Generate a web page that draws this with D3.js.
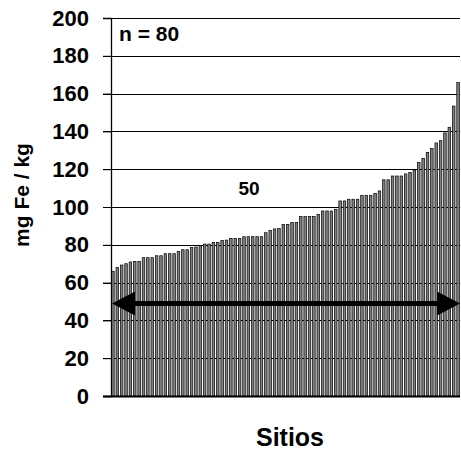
<!DOCTYPE html>
<meta charset="utf-8">
<script src="https://d3js.org/d3.v7.min.js"></script>
<style>
  body { margin: 0; background: #fff; }
  text { font-family: Arial, "Liberation Sans", sans-serif; font-weight: bold; fill: #000; }
</style>
<div id="chart"></div>
<script>
    // data: Fe per site, sorted
    const sites = d3.range(1, 81);
    const feValues = [
        66, 68, 69.3, 70, 70.9, 71.2, 71.2, 73.2, 73.2, 73.2,
        74.2, 74.2, 75.3, 75.3, 75.3, 76.4, 77.4, 77.4, 78.5, 78.8,
        79.5, 80.4, 80.4, 81.3, 81.3, 82.2, 82.5, 83.4, 83.4, 83.4,
        84.3, 84.3, 84.3, 84.3, 84.3, 86.4, 87.5, 88.4, 88.7, 90.8,
        90.8, 91.8, 91.8, 94.9, 94.9, 94.9, 94.9, 96.1, 97.9, 97.9,
        97.9, 98.8, 103.2, 103.2, 104.1, 104.1, 104.1, 106.1, 106.2, 106.2,
        107.2, 108.5, 114.4, 114.4, 116.4, 116.4, 116.4, 117.5, 118.3, 119.6,
        123.6, 125.7, 128.9, 130.9, 133.9, 135.1, 139.2, 142.2, 153.4, 165.8
    ];
    const yTicks = [0, 20, 40, 60, 80, 100, 120, 140, 160, 180, 200];
    const arrowValue = [49];
    const annotations = ["n = 80", "50"];

    const W = 461, H = 453;
    const margin = {top: 18, right: 1, bottom: 57, left: 111};

    const svg = d3.select("#chart")
        .append("svg")
        .attr("width", W)
        .attr("height", H);

    const x = d3.scaleBand()
        .domain(sites)
        .range([margin.left, W - margin.right])
        .paddingInner(0.42)
        .paddingOuter(0.15);

    const y = d3.scaleLinear()
        .domain([0, 200])
        .range([H - margin.bottom, margin.top]);

    // gridlines + tick marks
    svg.append("g")
        .selectAll("line")
        .data(yTicks.filter(d => d > 0))
        .join("line")
        .attr("x1", margin.left - 8)
        .attr("x2", W - margin.right)
        .attr("y1", d => Math.round(y(d)) + 0.5)
        .attr("y2", d => Math.round(y(d)) + 0.5)
        .attr("stroke", "#000")
        .attr("stroke-width", 1.2);

    // bars
    svg.append("g")
        .selectAll("rect")
        .data(feValues)
        .join("rect")
        .attr("x", (d, i) => x(sites[i]))
        .attr("width", x.bandwidth())
        .attr("y", d => y(d))
        .attr("height", d => y(0) - y(d))
        .attr("fill", "#808080")
        .attr("stroke", "#000")
        .attr("stroke-width", 0.7);

    // y axis
    const yAxis = svg.append("g")
        .attr("transform", `translate(${margin.left},0)`)
        .call(d3.axisLeft(y).tickValues(yTicks).tickSize(8).tickPadding(14));
    yAxis.select(".domain").attr("stroke-width", 1.3);
    yAxis.selectAll("text")
        .style("font-size", "22px")
        .style("font-family", "Arial, 'Liberation Sans', sans-serif")
        .style("font-weight", "bold");

    // x axis baseline
    svg.append("line")
        .attr("x1", margin.left - 8)
        .attr("x2", W - margin.right)
        .attr("y1", y(0) + 0.5)
        .attr("y2", y(0) + 0.5)
        .attr("stroke", "#000")
        .attr("stroke-width", 2);

    // double arrow
    const ay = y(arrowValue[0]);
    const ax0 = x.range()[0] + 1, ax1 = x.range()[1];
    const headL = 23, headH = 12;
    svg.append("line")
        .attr("x1", ax0 + headL - 2)
        .attr("x2", ax1 - headL + 2)
        .attr("y1", ay)
        .attr("y2", ay)
        .attr("stroke", "#000")
        .attr("stroke-width", 5);
    svg.append("path")
        .attr("d", `M${ax0},${ay}L${ax0 + headL},${ay - headH}L${ax0 + headL},${ay + headH}Z`)
        .attr("fill", "#000");
    svg.append("path")
        .attr("d", `M${ax1},${ay}L${ax1 - headL},${ay - headH}L${ax1 - headL},${ay + headH}Z`)
        .attr("fill", "#000");

    // annotations
    svg.append("text")
        .attr("x", 119)
        .attr("y", 41)
        .style("font-size", "21px")
        .text(annotations[0]);
    svg.append("text")
        .attr("x", 249)
        .attr("y", 195)
        .attr("text-anchor", "middle")
        .style("font-size", "19px")
        .text(annotations[1]);

    // axis titles
    svg.append("text")
        .attr("x", 290)
        .attr("y", 446)
        .attr("text-anchor", "middle")
        .style("font-size", "25px")
        .text("Sitios");
    svg.append("text")
        .attr("transform", "translate(29,195) rotate(-90)")
        .attr("text-anchor", "middle")
        .style("font-size", "21px")
        .text("mg Fe / kg");
</script>
